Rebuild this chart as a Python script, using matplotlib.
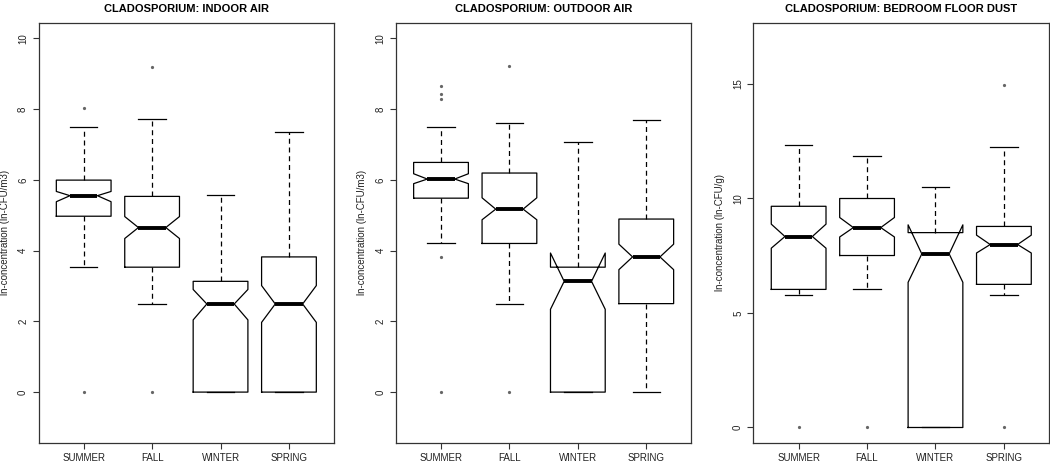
import matplotlib
matplotlib.use('Agg')
import matplotlib.pyplot as plt

plt.rcParams['font.family'] = ['Liberation Sans', 'DejaVu Sans']

seasons = ['SUMMER', 'FALL', 'WINTER', 'SPRING']

# indoor air: whislo, q1, cilo, med, cihi, q3, whishi, fliers
indoor_whislo = [3.53, 2.50, 0.00, 0.00]
indoor_q1 = [4.97, 3.53, 0.00, 0.00]
indoor_cilo = [5.38, 4.34, 2.04, 1.97]
indoor_med = [5.55, 4.65, 2.49, 2.49]
indoor_cihi = [5.67, 4.96, 2.90, 3.01]
indoor_q3 = [5.99, 5.53, 3.13, 3.82]
indoor_whishi = [7.49, 7.71, 5.57, 7.34]
indoor_fliers = [[8.03, 0.0], [9.20, 0.0], [], []]

# outdoor air
outdoor_whislo = [4.20, 2.50, 0.00, 0.00]
outdoor_q1 = [5.48, 4.20, 0.00, 2.50]
outdoor_cilo = [5.89, 4.87, 2.34, 3.46]
outdoor_med = [6.02, 5.17, 3.13, 3.82]
outdoor_cihi = [6.17, 5.49, 3.93, 4.18]
outdoor_q3 = [6.49, 6.19, 3.53, 4.89]
outdoor_whishi = [7.49, 7.59, 7.08, 7.68]
outdoor_fliers = [[8.66, 8.43, 8.28, 3.82, 0.0], [9.22, 0.0], [], []]

# bedroom floor dust
dust_whislo = [5.77, 6.03, 0.00, 5.77]
dust_q1 = [6.03, 7.51, 0.00, 6.25]
dust_cilo = [7.83, 8.32, 6.34, 7.62]
dust_med = [8.34, 8.73, 7.58, 7.99]
dust_cihi = [8.88, 9.17, 8.85, 8.40]
dust_q3 = [9.66, 10.00, 8.51, 8.78]
dust_whishi = [12.32, 11.85, 10.50, 12.23]
dust_fliers = [[0.0], [0.0], [], [14.97, 0.0]]


def make_stats(whislo, q1, cilo, med, cihi, q3, whishi, fliers):
    stats = []
    for i in range(len(seasons)):
        stats.append({'whislo': whislo[i], 'q1': q1[i], 'cilo': cilo[i],
                      'med': med[i], 'cihi': cihi[i], 'q3': q3[i],
                      'whishi': whishi[i], 'fliers': fliers[i],
                      'label': seasons[i]})
    return stats


panels = [
    ('CLADOSPORIUM: INDOOR AIR', 'ln-concentration (ln-CFU/m3)',
     make_stats(indoor_whislo, indoor_q1, indoor_cilo, indoor_med,
                indoor_cihi, indoor_q3, indoor_whishi, indoor_fliers),
     (-1, 10), [0, 2, 4, 6, 8, 10]),
    ('CLADOSPORIUM: OUTDOOR AIR', 'ln-concentration (ln-CFU/m3)',
     make_stats(outdoor_whislo, outdoor_q1, outdoor_cilo, outdoor_med,
                outdoor_cihi, outdoor_q3, outdoor_whishi, outdoor_fliers),
     (-1, 10), [0, 2, 4, 6, 8, 10]),
    ('CLADOSPORIUM: BEDROOM FLOOR DUST', 'ln-concentration (ln-CFU/g)',
     make_stats(dust_whislo, dust_q1, dust_cilo, dust_med,
                dust_cihi, dust_q3, dust_whishi, dust_fliers),
     (0, 17), [0, 5, 10, 15]),
]

lefts = [0.0367, 0.377, 0.7176]
axw = 0.2815

fig = plt.figure(figsize=(10.5, 4.62), dpi=100)

for (title, ylabel, stats, ylim, yticks), left in zip(panels, lefts):
    ax = fig.add_axes([left, 0.041, axw, 0.910])
    ax.bxp(stats, positions=[1, 2, 3, 4], widths=0.8, shownotches=True,
           boxprops=dict(color='black', linewidth=0.9),
           whiskerprops=dict(color='black', linewidth=0.9, linestyle=(0, (4, 3))),
           capprops=dict(color='black', linewidth=0.9),
           medianprops=dict(color='black', linewidth=2.8, solid_capstyle='butt'),
           flierprops=dict(marker='o', markersize=1.3, markerfacecolor='#666666',
                           markeredgecolor='#666666', linestyle='none'))
    span = ylim[1] - ylim[0]
    ax.set_ylim(ylim[0] - 0.04 * span, ylim[1] + 0.04 * span)
    ax.set_xlim(0.34, 4.66)
    ax.set_yticks(yticks)
    ax.set_yticklabels([str(t) for t in yticks], rotation=90, va='center')
    ax.tick_params(axis='both', labelsize=7, length=4, width=0.8,
                   color='#333333', labelcolor='#222222')
    ax.tick_params(axis='x', pad=3)
    for s in ax.spines.values():
        s.set_color('#333333')
        s.set_linewidth(0.9)
    ax.set_title(title, fontsize=8, fontweight='bold', pad=8)
    ax.set_ylabel(ylabel, fontsize=7, color='#222222', labelpad=6)

fig.savefig('out.png', dpi=100)
